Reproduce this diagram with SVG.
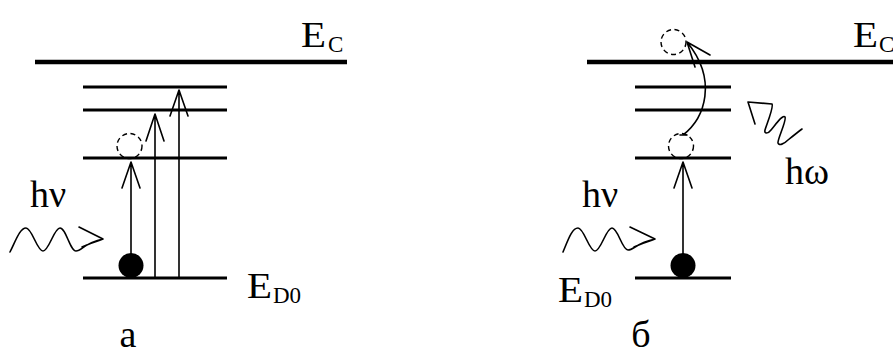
<svg xmlns="http://www.w3.org/2000/svg" width="893" height="351" viewBox="0 0 893 351">
<style>
.lvl{stroke:#000;stroke-width:3;fill:none}
.ec{stroke:#000;stroke-width:4.5;fill:none}
.thin{stroke:#000;stroke-width:1.6;fill:none;stroke-linecap:round;stroke-linejoin:round}
.dash{stroke:#000;stroke-width:1.4;fill:none;stroke-dasharray:5 3.5}
.t{font-family:"Liberation Serif","Times New Roman",serif;fill:#000}
.big{font-size:38px}
.e{font-size:36px}
.sub{font-size:23px}
</style>
<rect width="893" height="351" fill="#fff"/>

<g id="panel-a">
  <g id="a-levels">
    <line class="ec" x1="35" y1="62" x2="347" y2="62"/>
    <line class="lvl" x1="83" y1="87" x2="227" y2="87"/>
    <line class="lvl" x1="83" y1="110" x2="227" y2="110"/>
    <line class="lvl" x1="83" y1="158" x2="227" y2="158"/>
    <line class="lvl" x1="83" y1="278" x2="227" y2="278"/>
  </g>
  <g id="a-electron"><circle cx="131" cy="265.5" r="12.5" fill="#000"/></g>
  <g id="a-excited"><circle class="dash" cx="129.5" cy="146" r="12.5"/></g>
  <g id="a-connectors">
    <path class="thin" d="M131,266 L131,162 M122,188 L131,162 L140,188"/>
    <path class="thin" d="M155,278 L155,114 M146,141 L155,114 L164,141"/>
    <path class="thin" d="M179,278 L179,90 M170,116 L179,90 L188,116"/>
    <path class="thin" d="M10,252 C16,240 20,228 26,228 C32,228 37,251 43,251 C49,251 54,228 60,228 C66,228 70,251 76,251 C82,251 84,243 103,239 M79,227 L103,239 M82,247 C88,244 95,242 103,239"/>
  </g>
  <g id="a-labels">
    <text class="t e" x="301" y="47" textLength="25" lengthAdjust="spacingAndGlyphs">E</text>
    <text class="t sub" x="328" y="52">C</text>
    <text class="t e" x="247" y="298" textLength="25" lengthAdjust="spacingAndGlyphs">E</text>
    <text class="t sub" x="273" y="303">D0</text>
    <text class="t big" x="30" y="207">hν</text>
    <text class="t big" x="128" y="347" text-anchor="middle">а</text>
  </g>
</g>

<g id="panel-b">
  <g id="b-levels">
    <line class="ec" x1="587" y1="62" x2="893" y2="62"/>
    <line class="lvl" x1="635" y1="87" x2="731" y2="87"/>
    <line class="lvl" x1="635" y1="110" x2="731" y2="110"/>
    <line class="lvl" x1="635" y1="158" x2="731" y2="158"/>
    <line class="lvl" x1="635" y1="278" x2="731" y2="278"/>
  </g>
  <g id="b-electron"><circle cx="683" cy="265.5" r="12.5" fill="#000"/></g>
  <g id="b-excited"><circle class="dash" cx="681" cy="146" r="12.5"/></g>
  <g id="b-free"><circle class="dash" cx="673.5" cy="42" r="12.5"/></g>
  <g id="b-connectors">
    <path class="thin" d="M683,266 L683,162 M674,188 L683,162 L692,188"/>
    <path class="thin" d="M680,135 L687,135 M683,135 C705,118 718,80 687,42 M710,55 L687,42 L695,67"/>
    <path class="thin" d="M563,252 C568,240 572,228 578,228 C584,228 589,251 595,251 C601,251 606,228 612,228 C618,228 622,250 628,250 C634,250 636,243 655,239 M630,227 L655,239 M634,247 C640,244 647,242 655,239"/>
    <path class="thin" d="M755,124 L748,102 L772,104 C774,107 766,126 765,130 C764,134 768,134 771,130 C776,124 783,114 785,117 C787,120 777,140 778,143 C779,146 784,144 788,140 C793,136 798,132 802,129"/>
  </g>
  <g id="b-labels">
    <text class="t e" x="853" y="47" textLength="25" lengthAdjust="spacingAndGlyphs">E</text>
    <text class="t sub" x="879" y="52">C</text>
    <text class="t e" x="558" y="302" textLength="25" lengthAdjust="spacingAndGlyphs">E</text>
    <text class="t sub" x="584" y="307">D0</text>
    <text class="t big" x="582" y="207">hν</text>
    <text class="t big" x="785" y="184">hω</text>
    <text class="t big" x="641" y="347" text-anchor="middle">б</text>
  </g>
</g>
</svg>
